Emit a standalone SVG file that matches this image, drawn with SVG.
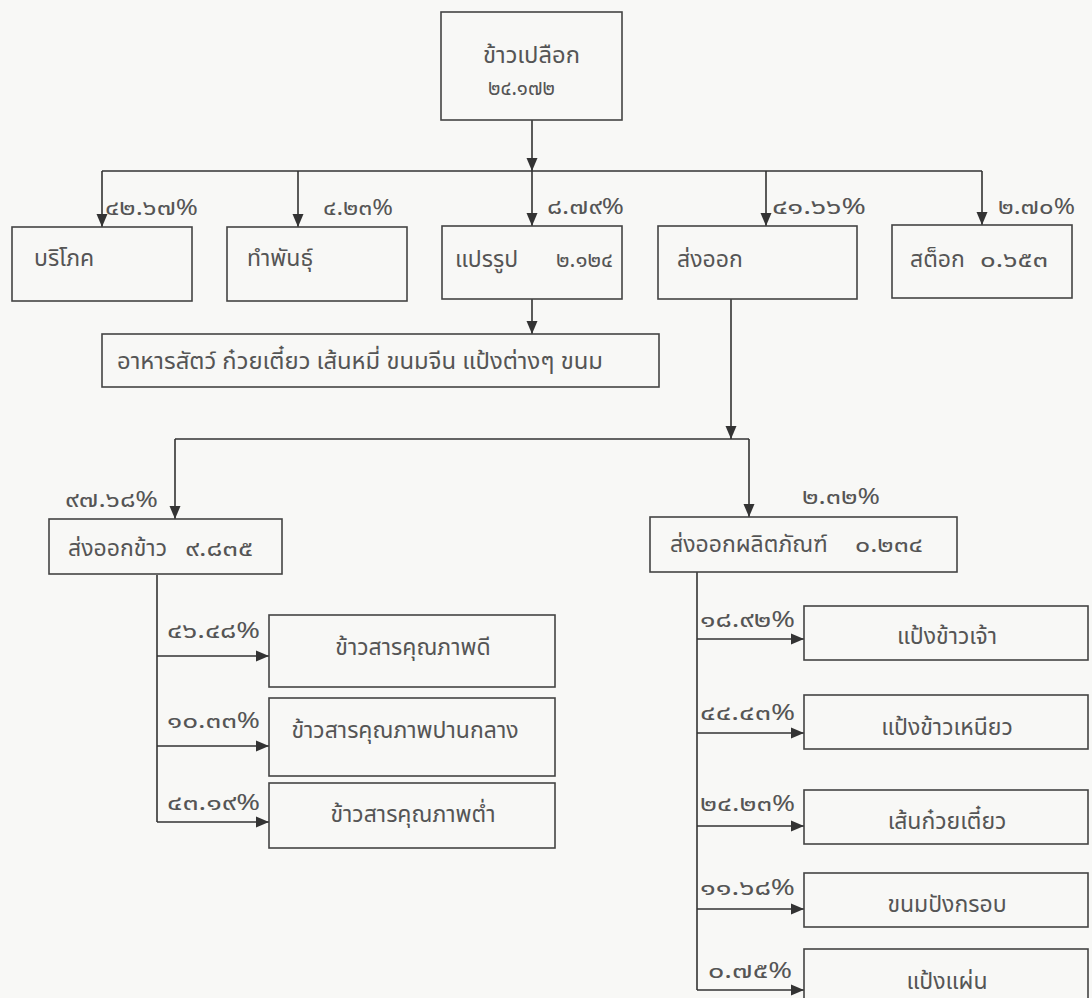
<svg xmlns="http://www.w3.org/2000/svg" width="1092" height="998" viewBox="0 0 1092 998">
<defs>
<marker id="ah" viewBox="0 0 13 12" refX="13" refY="6" markerWidth="13" markerHeight="12" markerUnits="userSpaceOnUse" orient="auto">
<path d="M0,0.5 L13,6 L0,11.5 z" fill="#333"/>
</marker>
<style>
.box{fill:none;stroke:#444;stroke-width:1.6}
.t{font-family:Tahoma,"Noto Sans Thai","Noto Sans","DejaVu Sans",sans-serif;font-size:23px;fill:#555}
.n{font-family:Tahoma,"Noto Sans Thai","Noto Sans","DejaVu Sans",sans-serif;font-size:21px;fill:#555}
.l{font-family:Tahoma,"Noto Sans Thai","Noto Sans","DejaVu Sans",sans-serif;font-size:21px;fill:#555}
.c{fill:none;stroke:#333;stroke-width:1.6}
.a{fill:none;stroke:#333;stroke-width:1.6;marker-end:url(#ah)}
</style>
</defs>
<rect width="1092" height="998" fill="#f8f8f6"/>

<g id="connectors">
<path class="a" d="M532,120 V171"/>
<path class="c" d="M102,171 H982"/>
<path class="a" d="M102,171 V227"/>
<path class="a" d="M298,171 V227"/>
<path class="a" d="M532,171 V226"/>
<path class="a" d="M766,171 V226"/>
<path class="a" d="M982,171 V225"/>
<path class="a" d="M532,299 V334"/>
<path class="a" d="M731,299 V439"/>
<path class="c" d="M175,439 H749"/>
<path class="a" d="M175,439 V519"/>
<path class="a" d="M749,439 V517"/>
<path class="c" d="M157,575 V822"/>
<path class="a" d="M157,656 H269"/>
<path class="a" d="M157,746 H269"/>
<path class="a" d="M157,822 H269"/>
<path class="c" d="M697,572 V990"/>
<path class="a" d="M697,639 H804"/>
<path class="a" d="M697,733 H804"/>
<path class="a" d="M697,826 H804"/>
<path class="a" d="M697,909 H804"/>
<path class="a" d="M697,990 H804"/>
</g>

<g id="labels">
<text class="l" x="105" y="215" textLength="93" lengthAdjust="spacingAndGlyphs">๔๒.๖๗%</text>
<text class="l" x="323" y="215" textLength="70" lengthAdjust="spacingAndGlyphs">๔.๒๓%</text>
<text class="l" x="547" y="214" textLength="77" lengthAdjust="spacingAndGlyphs">๘.๗๙%</text>
<text class="l" x="772" y="214" textLength="94" lengthAdjust="spacingAndGlyphs">๔๑.๖๖%</text>
<text class="l" x="998" y="214" textLength="77" lengthAdjust="spacingAndGlyphs">๒.๗๐%</text>
<text class="l" x="65" y="507" textLength="93" lengthAdjust="spacingAndGlyphs">๙๗.๖๘%</text>
<text class="l" x="802" y="504" textLength="78" lengthAdjust="spacingAndGlyphs">๒.๓๒%</text>
<text class="l" x="167" y="638" textLength="93" lengthAdjust="spacingAndGlyphs">๔๖.๔๘%</text>
<text class="l" x="167" y="728" textLength="93" lengthAdjust="spacingAndGlyphs">๑๐.๓๓%</text>
<text class="l" x="167" y="810" textLength="93" lengthAdjust="spacingAndGlyphs">๔๓.๑๙%</text>
<text class="l" x="700" y="627" textLength="95" lengthAdjust="spacingAndGlyphs">๑๘.๙๒%</text>
<text class="l" x="700" y="720" textLength="95" lengthAdjust="spacingAndGlyphs">๔๔.๔๓%</text>
<text class="l" x="700" y="811" textLength="95" lengthAdjust="spacingAndGlyphs">๒๔.๒๓%</text>
<text class="l" x="700" y="895" textLength="95" lengthAdjust="spacingAndGlyphs">๑๑.๖๘%</text>
<text class="l" x="708" y="978" textLength="84" lengthAdjust="spacingAndGlyphs">๐.๗๕%</text>
</g>

<g id="n-paddy">
<rect class="box" x="441" y="12" width="181" height="108"/>
<text class="t" x="483" y="63" textLength="97" lengthAdjust="spacingAndGlyphs">ข้าวเปลือก</text>
<text class="n" x="488" y="95" textLength="67" lengthAdjust="spacingAndGlyphs">๒๔.๑๗๒</text>
</g>
<g id="n-consume">
<rect class="box" x="12" y="227" width="180" height="74"/>
<text class="t" x="34" y="266">บริโภค</text>
</g>
<g id="n-seed">
<rect class="box" x="227" y="227" width="180" height="74"/>
<text class="t" x="247" y="266">ทำพันธุ์</text>
</g>
<g id="n-process">
<rect class="box" x="442" y="226" width="180" height="73"/>
<text class="t" x="455" y="267">แปรรูป</text>
<text class="n" x="556" y="267" textLength="57" lengthAdjust="spacingAndGlyphs">๒.๑๒๔</text>
</g>
<g id="n-export">
<rect class="box" x="658" y="226" width="199" height="73"/>
<text class="t" x="677" y="267">ส่งออก</text>
</g>
<g id="n-stock">
<rect class="box" x="892" y="225" width="180" height="73"/>
<text class="t" x="910" y="267">สต็อก</text>
<text class="n" x="980" y="267" textLength="68" lengthAdjust="spacingAndGlyphs">๐.๖๕๓</text>
</g>
<g id="n-products">
<rect class="box" x="102" y="334" width="557" height="53"/>
<text class="t" x="117" y="369" textLength="486" lengthAdjust="spacingAndGlyphs">อาหารสัตว์ ก๋วยเตี๋ยว เส้นหมี่ ขนมจีน แป้งต่างๆ ขนม</text>
</g>
<g id="n-export-rice">
<rect class="box" x="49" y="519" width="233" height="55"/>
<text class="t" x="68" y="556">ส่งออกข้าว</text>
<text class="n" x="185" y="556" textLength="68" lengthAdjust="spacingAndGlyphs">๙.๘๓๕</text>
</g>
<g id="n-export-prod">
<rect class="box" x="650" y="517" width="307" height="55"/>
<text class="t" x="670" y="552">ส่งออกผลิตภัณฑ์</text>
<text class="n" x="855" y="552" textLength="68" lengthAdjust="spacingAndGlyphs">๐.๒๓๔</text>
</g>
<g id="n-good">
<rect class="box" x="269" y="615" width="286" height="72"/>
<text class="t" x="413" y="655" text-anchor="middle">ข้าวสารคุณภาพดี</text>
</g>
<g id="n-mid">
<rect class="box" x="269" y="698" width="286" height="78"/>
<text class="t" x="405" y="738" text-anchor="middle">ข้าวสารคุณภาพปานกลาง</text>
</g>
<g id="n-low">
<rect class="box" x="269" y="783" width="286" height="65"/>
<text class="t" x="413" y="822" text-anchor="middle">ข้าวสารคุณภาพต่ำ</text>
</g>
<g id="n-riceflour">
<rect class="box" x="804" y="606" width="284" height="54"/>
<text class="t" x="947" y="644" text-anchor="middle">แป้งข้าวเจ้า</text>
</g>
<g id="n-glutinous">
<rect class="box" x="804" y="695" width="284" height="54"/>
<text class="t" x="947" y="735" text-anchor="middle">แป้งข้าวเหนียว</text>
</g>
<g id="n-noodle">
<rect class="box" x="804" y="790" width="284" height="54"/>
<text class="t" x="947" y="829" text-anchor="middle">เส้นก๋วยเตี๋ยว</text>
</g>
<g id="n-cracker">
<rect class="box" x="804" y="873" width="284" height="54"/>
<text class="t" x="947" y="912" text-anchor="middle">ขนมปังกรอบ</text>
</g>
<g id="n-sheet">
<rect class="box" x="804" y="949" width="284" height="60"/>
<text class="t" x="947" y="989" text-anchor="middle">แป้งแผ่น</text>
</g>
</svg>
